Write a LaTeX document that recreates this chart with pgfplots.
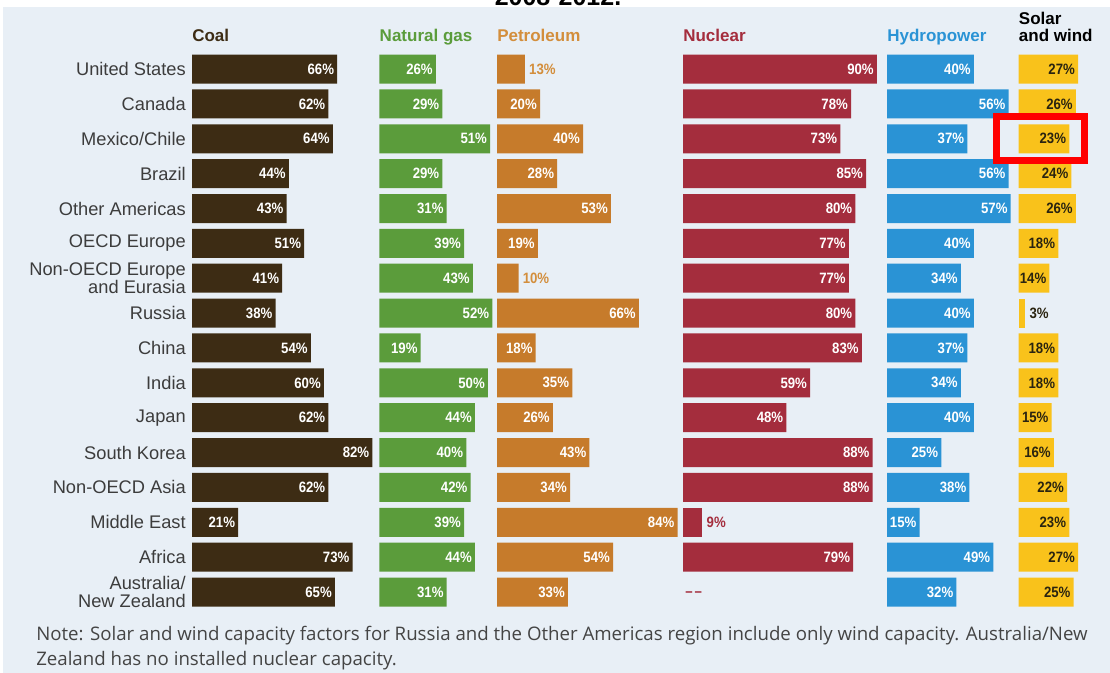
\documentclass[border=0pt]{standalone}
\usepackage{pgfplots}
\pgfplotsset{compat=1.18}
\usepackage{fontspec}
\setmainfont{Liberation Sans}
\newfontfamily\notefont{Open Sans}
\newfontfamily\valfont{Liberation Sans}[FakeStretch=0.88]
\definecolor{bg}{HTML}{E8EFF6}
\definecolor{coal}{HTML}{3D2C14}
\definecolor{gas}{HTML}{5B9C3B}
\definecolor{pet}{HTML}{C67B2B}
\definecolor{peth}{HTML}{D38E3C}
\definecolor{nuc}{HTML}{A42D3D}
\definecolor{hyd}{HTML}{2A93D5}
\definecolor{sol}{HTML}{F9C21B}
\definecolor{cat}{HTML}{3C3C3C}
\definecolor{notec}{HTML}{444444}
\definecolor{dark}{HTML}{2A2410}
\newcommand{\vfont}{\valfont\bfseries\fontsize{11.25}{12}\selectfont}
\newcommand{\hfont}{\bfseries\fontsize{12.75}{14}\selectfont}
\pgfplotsset{
  panel/.style={
    xbar, bar shift=0pt, bar width=21.75pt,
    scale only axis, y dir=reverse, y=26.15pt,
    xmin=0, ymin=0.5, ymax=16.5, enlargelimits=false,
    axis line style={draw=none}, tick style={draw=none}, major tick length=0pt,
    xtick=\empty, ytick=\empty, clip=false, anchor=north west,
    /pgf/number format/assume math mode=true,
    point meta=x,
    nodes near coords={\pgfmathprintnumber[assume math mode=true]{\pgfplotspointmeta}\%},
  },
  inl/.style={draw=none, every node near coord/.append style={anchor=east, xshift=-2.2pt, inner sep=0pt, font=\vfont, text=#1}},
  outl/.style={draw=none, every node near coord/.append style={anchor=west, xshift=3pt, inner sep=0pt, font=\vfont, text=#1}},
}
\begin{document}
\begin{tikzpicture}
\path[use as bounding box] (0,0) rectangle (832.5pt,-504.75pt);
\clip (0,0) rectangle (832.5pt,-504.75pt);
\fill[white] (0,0) rectangle (832.5pt,-504.75pt);
\fill[bg] (2.25pt,-5.25pt) rectangle (832.5pt,-504.75pt);
\node[anchor=base, inner sep=0pt, font=\bfseries\fontsize{18.75}{20}\selectfont] at (418.5pt,-4.1pt) {2008-2012.};

% headers
\node[anchor=base west, inner sep=0pt, font=\hfont, text=coal] at (144pt,-31.1pt) {Coal};
\node[anchor=base west, inner sep=0pt, font=\hfont, text=gas] at (284.6pt,-31.1pt) {Natural gas};
\node[anchor=base west, inner sep=0pt, font=\hfont, text=peth] at (372.75pt,-31.1pt) {Petroleum};
\node[anchor=base west, inner sep=0pt, font=\hfont, text=nuc] at (512.25pt,-31.1pt) {Nuclear};
\node[anchor=base west, inner sep=0pt, font=\hfont, text=hyd] at (665.25pt,-31.1pt) {Hydropower};
\node[anchor=base west, inner sep=0pt, font=\hfont, text=black] at (764pt,-18.4pt) {Solar};
\node[anchor=base west, inner sep=0pt, font=\hfont, text=black] at (764pt,-31.1pt) {and wind};

% Coal
\begin{axis}[panel, at={(144pt,-38.7pt)}, x=1.65pt, xmax=82,
  ytick={1,...,16},
  yticklabels={United States, Canada, Mexico/Chile, Brazil, Other Americas, OECD Europe, {Non-OECD Europe\\and Eurasia}, Russia, China, India, Japan, South Korea, Non-OECD Asia, Middle East, Africa, {Australia/\\New Zealand}},
  yticklabel style={align=right, inner sep=0pt, xshift=-4.5pt, text=cat, font=\fontsize{13.7}{13.7}\selectfont},
]
\addplot[fill=coal, inl=white] coordinates {(66,1)(62,2)(64,3)(44,4)(43,5)(51,6)(41,7)(38,8)(54,9)(60,10)(62,11)(82,12)(62,13)(21,14)(73,15)(65,16)};
\end{axis}

% Natural gas
\begin{axis}[panel, at={(284.6pt,-38.7pt)}, x=1.6275pt, xmax=52]
\addplot[fill=gas, inl=white] coordinates {(26,1)(29,2)(51,3)(29,4)(31,5)(39,6)(43,7)(52,8)(19,9)(50,10)(44,11)(40,12)(42,13)(39,14)(44,15)(31,16)};
\end{axis}

% Petroleum
\begin{axis}[panel, at={(372.75pt,-38.7pt)}, x=1.6125pt, xmax=84]
\addplot[fill=pet, inl=white] coordinates {(20,2)(40,3)(28,4)(53,5)(19,6)(66,8)(18,9)(35,10)(26,11)(43,12)(34,13)(84,14)(54,15)(33,16)};
\addplot[fill=pet, outl=peth] coordinates {(13,1)(10,7)};
\end{axis}

% Nuclear
\begin{axis}[panel, at={(512.25pt,-38.7pt)}, x=1.616pt, xmax=90]
\addplot[fill=nuc, inl=white] coordinates {(90,1)(78,2)(73,3)(85,4)(80,5)(77,6)(77,7)(80,8)(83,9)(59,10)(48,11)(88,12)(88,13)(79,15)};
\addplot[fill=nuc, outl=nuc] coordinates {(9,14)};
\node[anchor=west, inner sep=0pt, xshift=1.5pt, yshift=-1.5pt, font=\vfont, text=nuc] at (axis cs:0,16) {–\kern1.5pt–};
\end{axis}

% Hydropower
\begin{axis}[panel, at={(665.25pt,-38.7pt)}, x=1.6275pt, xmax=57]
\addplot[fill=hyd, inl=white] coordinates {(40,1)(56,2)(37,3)(56,4)(57,5)(40,6)(34,7)(40,8)(37,9)(34,10)(40,11)(25,12)(38,13)(15,14)(49,15)(32,16)};
\end{axis}

% Solar and wind
\begin{axis}[panel, at={(764pt,-38.7pt)}, x=1.65pt, xmax=27]
\addplot[fill=sol, inl=dark] coordinates {(27,1)(26,2)(23,3)(24,4)(26,5)(18,6)(14,7)(18,9)(18,10)(15,11)(16,12)(22,13)(23,14)(27,15)(25,16)};
\addplot[fill=sol, outl=dark] coordinates {(3,8)};
\end{axis}

\draw[red, line width=5.25pt] (747.4pt,-87.4pt) rectangle (813.4pt,-120.4pt);

\node[anchor=base west, inner sep=0pt, font=\notefont\fontsize{14}{15}\selectfont, text=notec] at (27pt,-480pt) {Note: Solar and wind capacity factors for Russia and the Other Americas region include only wind capacity. Australia/New};
\node[anchor=base west, inner sep=0pt, font=\notefont\fontsize{14}{15}\selectfont, text=notec] at (27pt,-498.75pt) {Zealand has no installed nuclear capacity.};
\end{tikzpicture}
\end{document}
